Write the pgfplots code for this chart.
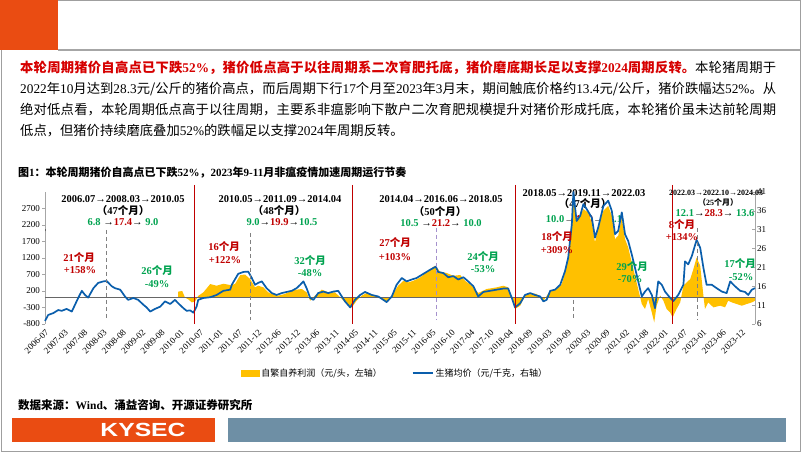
\documentclass[border=0pt]{standalone}
\usepackage{pgfplots}
\usepackage{pgfplotstable}
\pgfplotsset{compat=1.18}
\usepackage{fontspec}
\setmainfont{Liberation Serif}
\newfontfamily\cjk{Noto Sans CJK SC}
\newfontfamily\kysans{Liberation Sans}
\definecolor{gold}{RGB}{255,192,0}
\definecolor{pblue}{RGB}{10,94,172}
\definecolor{ared}{RGB}{192,0,0}
\definecolor{agreen}{RGB}{0,163,80}
\definecolor{tred}{RGB}{214,0,0}
\definecolor{kyorange}{RGB}{234,76,18}
\definecolor{kyblue}{RGB}{110,143,165}
\definecolor{lilac}{RGB}{165,145,205}
\newcommand\tm[1]{{\rmfamily #1}}
\newcommand\G[1]{\textcolor{agreen}{#1}}
\newcommand\R[1]{\textcolor{ared}{#1}}

% 生猪均价 (元/千克)
\pgfplotstableread{
t v
2006.50 6.8
2006.58 8.4
2006.71 8.9
2006.83 9.7
2006.92 9.5
2007.04 10.0
2007.17 9.3
2007.25 11.1
2007.33 12.9
2007.42 14.8
2007.50 13.7
2007.58 13.0
2007.71 15.5
2007.83 16.9
2007.96 17.3
2008.04 17.4
2008.17 16.0
2008.25 15.5
2008.38 15.1
2008.50 13.3
2008.58 12.4
2008.71 12.9
2008.83 12.4
2008.96 11.1
2009.04 10.4
2009.13 9.3
2009.25 10.0
2009.38 10.6
2009.50 12.0
2009.63 11.3
2009.75 12.4
2009.83 11.5
2009.96 10.2
2010.04 9.5
2010.13 9.6
2010.21 9.0
2010.29 10.6
2010.33 12.4
2010.46 12.9
2010.63 13.1
2010.79 13.7
2010.96 14.8
2011.13 15.1
2011.17 16.4
2011.33 19.3
2011.46 19.8
2011.58 19.9
2011.67 18.2
2011.75 16.4
2011.83 16.9
2011.92 17.3
2012.04 15.5
2012.17 14.2
2012.29 13.7
2012.42 14.2
2012.54 14.5
2012.67 14.8
2012.79 15.5
2012.88 16.4
2012.96 17.3
2013.04 15.5
2013.13 12.9
2013.21 12.4
2013.33 14.2
2013.46 14.6
2013.58 14.2
2013.71 14.6
2013.83 14.8
2013.92 13.3
2014.00 12.0
2014.13 10.4
2014.25 12.4
2014.38 13.7
2014.50 14.5
2014.67 13.7
2014.83 13.3
2014.96 12.4
2015.04 11.8
2015.17 13.3
2015.29 16.4
2015.42 18.2
2015.54 17.3
2015.67 17.8
2015.79 18.2
2015.96 19.3
2016.13 20.4
2016.27 21.2
2016.33 19.8
2016.46 19.5
2016.58 18.4
2016.71 18.7
2016.83 17.8
2016.96 18.4
2017.08 17.3
2017.21 16.0
2017.33 13.3
2017.46 14.5
2017.63 14.8
2017.79 15.1
2017.96 15.4
2018.08 15.4
2018.17 12.9
2018.25 10.4
2018.38 11.5
2018.50 13.7
2018.63 14.2
2018.75 13.7
2018.88 13.3
2018.96 12.0
2019.04 12.4
2019.13 14.8
2019.25 15.1
2019.38 16.4
2019.50 20.0
2019.58 23.6
2019.67 32.4
2019.71 41.0
2019.79 33.3
2019.88 34.7
2019.96 37.8
2020.04 36.5
2020.17 34.2
2020.25 28.9
2020.33 31.6
2020.46 37.3
2020.58 38.7
2020.67 36.0
2020.75 29.8
2020.83 30.7
2020.92 35.6
2021.00 29.8
2021.08 28.0
2021.17 24.4
2021.29 19.1
2021.42 13.3
2021.50 14.6
2021.58 15.5
2021.67 13.7
2021.75 10.2
2021.83 17.3
2021.92 16.4
2022.00 14.6
2022.13 12.9
2022.21 12.1
2022.33 13.7
2022.46 16.4
2022.50 22.6
2022.58 21.8
2022.67 24.0
2022.79 28.3
2022.88 26.2
2022.96 20.9
2023.04 16.4
2023.17 16.4
2023.29 15.5
2023.42 14.6
2023.54 14.2
2023.63 17.3
2023.75 16.0
2023.88 14.8
2024.00 14.5
2024.08 13.7
2024.17 15.1
2024.25 15.5
}\price

% 自繁自养利润 (元/头)
\pgfplotstableread{
t v
2009.83 180
2009.93 200
2010.00 0
2010.08 -50
2010.17 -145
2010.25 -120
2010.33 50
2010.46 160
2010.63 410
2010.79 360
2010.96 420
2011.13 380
2011.25 410
2011.38 680
2011.50 700
2011.63 560
2011.75 310
2011.83 360
2011.96 310
2012.08 160
2012.17 110
2012.33 60
2012.50 110
2012.67 210
2012.79 240
2012.92 260
2013.04 160
2013.13 -95
2013.25 60
2013.42 240
2013.58 160
2013.75 160
2013.92 -40
2014.08 -245
2014.17 -300
2014.29 -95
2014.42 60
2014.54 140
2014.71 80
2014.92 -40
2015.04 -145
2015.17 60
2015.33 360
2015.46 510
2015.58 460
2015.71 510
2015.88 610
2016.13 865
2016.25 965
2016.38 785
2016.54 745
2016.71 660
2016.88 685
2017.00 510
2017.17 360
2017.33 140
2017.54 260
2017.79 310
2017.96 360
2018.08 310
2018.17 -40
2018.25 -345
2018.38 -245
2018.50 60
2018.63 140
2018.79 110
2018.96 -95
2019.13 210
2019.29 260
2019.42 410
2019.50 760
2019.58 1270
2019.67 2380
2019.71 2985
2019.79 2380
2019.88 2480
2019.96 2680
2020.08 2580
2020.17 2275
2020.25 1670
2020.33 2175
2020.46 2630
2020.58 2780
2020.67 2480
2020.75 1775
2020.83 1875
2020.92 2430
2021.00 1775
2021.08 1520
2021.17 1065
2021.29 460
2021.42 -195
2021.50 -345
2021.58 -40
2021.67 -450
2021.73 -750
2021.79 -245
2021.88 60
2021.96 -95
2022.04 -345
2022.13 -450
2022.19 -600
2022.29 -345
2022.38 -145
2022.46 360
2022.54 460
2022.63 560
2022.71 865
2022.79 1215
2022.88 965
2022.96 60
2023.00 -345
2023.08 -145
2023.21 -295
2023.38 -245
2023.50 -295
2023.58 -95
2023.67 -145
2023.79 -195
2023.92 -245
2024.04 -195
2024.17 -145
2024.25 -95
}\profit

\def\xticks{2006.500,2006.984,2007.468,2007.951,2008.435,2008.919,2009.403,2009.886,2010.370,2010.854,2011.338,2011.821,2012.305,2012.789,2013.273,2013.756,2014.240,2014.724,2015.208,2015.691,2016.175,2016.659,2017.143,2017.626,2018.110,2018.594,2019.078,2019.561,2020.045,2020.529,2021.013,2021.496,2021.980,2022.464,2022.948,2023.431,2023.915}

\begin{document}
\begin{tikzpicture}[x=1pt,y=1pt,
  ann/.style={inner sep=0pt, font=\rmfamily\bfseries\fontsize{10.5}{12}\selectfont},
  sml/.style={inner sep=0pt, font=\rmfamily\bfseries\fontsize{8}{9}\selectfont}]
\path[use as bounding box] (0,0) rectangle (802,452);
\fill[white] (0,0) rectangle (802,452);
% slide frame
\draw[gray!75, line width=0.8pt] (1,1) rectangle (800,451.5);
\fill[kyorange] (0,402) rectangle (58,452);
\draw[gray!70, line width=1.2pt] (58,402) -- (800,402);

% paragraph
\node[anchor=north west, inner sep=0pt, text width=756pt, align=justify] at (20,391)
{\cjk\fontsize{13.3pt}{20.8pt}\selectfont\XeTeXlinebreaklocale "zh"\XeTeXlinebreakskip=0pt plus 1.5pt
{\color{tred}\bfseries 本轮周期猪价自高点已下跌\tm{52\%}，猪价低点高于以往周期系二次育肥托底，猪价磨底期长足以支撑\tm{2024}周期反转。}本轮猪周期于\linebreak
\tm{2022}年\tm{10}月达到\tm{28.3}元/公斤的猪价高点，而后周期下行\tm{17}个月至\tm{2023}年\tm{3}月末，期间触底价格约\tm{13.4}元/公斤，猪价跌幅达\tm{52\%}。从\linebreak
绝对低点看，本轮周期低点高于以往周期，主要系非瘟影响下散户二次育肥规模提升对猪价形成托底，本轮猪价虽未达前轮周期\linebreak
低点，但猪价持续磨底叠加\tm{52\%}的跌幅足以支撑\tm{2024}年周期反转。\par};

% chart title
\node[anchor=west, inner sep=0pt] at (18,279)
{\cjk\bfseries\fontsize{11}{13}\selectfont 图\tm{1}：本轮周期猪价自高点已下跌\tm{52\%}，\tm{2023}年\tm{9-11}月非瘟疫情加速周期运行节奏};

% annotations lying under the data (2018-2022 cycle)
\draw[gray, dashed, dash pattern=on 4pt off 3pt, line width=0.8pt] (573,222) -- (573,132);
\node[ann] at (584,259) {2018.05→2019.11→2022.03};
\node[ann] at (585,248) {{\cjk （}47{\cjk 个月）}};
\node[ann] at (584,233) {\G{10.0}→\R{41.0}→\G{12.1}};

\begin{axis}[
  at={(45pt,128pt)}, anchor=south west,
  scale only axis, width=710pt, height=132pt,
  xmin=2006.5, xmax=2024.25,
  ymin=-800, ymax=3200,
  axis y line*=left, axis x line*=bottom,
  x axis line style={draw=none},
  y axis line style={gray!70, line width=0.6pt},
  ytick={-800,-300,200,700,1200,1700,2200,2700},
  xtick/.expanded={\xticks},
  xticklabels={2006-07,2007-03,2007-08,2008-03,2008-08,2009-02,2009-08,2010-01,2010-07,2011-01,2011-07,2011-12,2012-06,2012-12,2013-06,2013-11,2014-05,2014-11,2015-05,2015-11,2016-05,2016-10,2017-04,2017-10,2018-04,2018-09,2019-03,2019-09,2020-03,2020-09,2021-02,2021-08,2022-01,2022-07,2023-01,2023-06,2023-12},
  xtick style={draw=none},
  ytick style={gray!70, line width=0.6pt},
  tick align=outside, major tick length=3pt,
  xticklabel style={rotate=45, anchor=north east, inner sep=1pt, font=\fontsize{9}{10}\selectfont},
  yticklabel style={font=\fontsize{9}{10}\selectfont, inner sep=2pt},
  /pgf/number format/assume math mode=true,
  /pgf/number format/1000 sep={},
  clip=false,
]
\addplot[fill=gold, draw=none] table[x=t, y=v] {\profit} \closedcycle;
\draw[gray!80!black, line width=0.6pt] (axis cs:2006.5,0) -- (axis cs:2024.25,0);
\pgfplotsinvokeforeach{\xticks}{\draw[gray!80!black, line width=0.5pt] (axis cs:#1,0) -- ++(0pt,2pt);}
\end{axis}

\begin{axis}[
  at={(45pt,128pt)}, anchor=south west,
  scale only axis, width=710pt, height=132pt,
  xmin=2006.5, xmax=2024.25,
  ymin=6, ymax=41,
  axis y line*=right, axis x line=none,
  y axis line style={gray!70, line width=0.6pt},
  ytick={6,11,16,21,26,31,36,41},
  ytick style={gray!70, line width=0.6pt},
  tick align=inside, major tick length=3pt,
  yticklabel style={font=\fontsize{9}{10}\selectfont, inner sep=2pt},
  /pgf/number format/assume math mode=true,
  clip=false,
  legend style={at={(0.493,-0.371)}, anchor=center, draw=none, fill=none,
    legend columns=2, inner sep=0pt,
    font=\cjk\fontsize{9}{11}\selectfont,
    /tikz/every even column/.append style={column sep=28pt}},
]
\addlegendimage{legend image code/.code={\fill[gold] (0pt,-3pt) rectangle (18pt,3pt);}}
\addlegendentry{自繁自养利润（元/头，左轴）}
\addplot[pblue, line width=1.7pt, line join=round,
  legend image code/.code={\draw[pblue, line width=1.7pt] (0pt,0pt) -- (20pt,0pt);}]
  table[x=t, y=v] {\price};
\addlegendentry{生猪均价（元/千克，右轴）}
\end{axis}

% cycle separators and peaks
\foreach \xx in {194,352,515,672}
  \draw[ared, line width=0.9pt] (\xx,267) -- (\xx,128);
\foreach \xx/\yy in {106/222,250/219,697/224}
  \draw[gray, dash pattern=on 4pt off 3pt, line width=0.8pt] (\xx,\yy) -- (\xx,132);
\draw[lilac, dash pattern=on 4pt off 3pt, line width=0.8pt] (436,224) -- (436,132);

% cycle 1
\node[ann] at (123,253) {2006.07→2008.03→2010.05};
\node[ann] at (123,241) {{\cjk （}47{\cjk 个月）}};
\node[ann] at (123,230) {\G{6.8} →\R{17.4}→ \G{9.0}};
\node[ann] at (79,194) {\R{21{\cjk 个月}}};
\node[ann] at (80,182) {\R{+158\%}};
\node[ann] at (157,181) {\G{26{\cjk 个月}}};
\node[ann] at (157,168) {\G{-49\%}};
% cycle 2
\node[ann] at (280,253) {2010.05→2011.09→2014.04};
\node[ann] at (279,241) {{\cjk （}48{\cjk 个月）}};
\node[ann] at (282,230) {\G{9.0}→\R{19.9}→\G{10.5}};
\node[ann] at (224,205) {\R{16{\cjk 个月}}};
\node[ann] at (225,192) {\R{+122\%}};
\node[ann] at (310,191) {\G{32{\cjk 个月}}};
\node[ann] at (310,179) {\G{-48\%}};
% cycle 3
\node[ann] at (441,253) {2014.04→2016.06→2018.05};
\node[ann] at (440,240) {{\cjk （}50{\cjk 个月）}};
\node[ann] at (441,229) {\G{10.5} →\R{21.2}→ \G{10.0}};
\node[ann] at (395,209) {\R{27{\cjk 个月}}};
\node[ann] at (395,195) {\R{+103\%}};
\node[ann] at (483,195) {\G{24{\cjk 个月}}};
\node[ann] at (483,183) {\G{-53\%}};
% cycle 4
\node[ann] at (557,215) {\R{18{\cjk 个月}}};
\node[ann] at (557,202) {\R{+309\%}};
\node[ann] at (632,185) {\G{29{\cjk 个月}}};
\node[ann] at (630,173) {\G{-70\%}};
% cycle 5
\node[sml] at (716,259) {2022.03→2022.10→2024.03};
\node[sml] at (718,250) {{\cjk （}25{\cjk 个月）}};
\node[ann] at (715,239) {\G{12.1}→\R{28.3}→ \G{13.6}};
\node[ann] at (682,227) {\R{8{\cjk 个月}}};
\node[ann] at (682,215) {\R{+134\%}};
\node[ann] at (740,188) {\G{17{\cjk 个月}}};
\node[ann] at (741,175) {\G{-52\%}};

% source
\node[anchor=west, inner sep=0pt] at (18,47)
{\cjk\bfseries\fontsize{11.5}{13}\selectfont 数据来源：\tm{Wind}、涌益咨询、开源证券研究所};

% footer bar
\fill[kyorange] (12,10) rectangle (215,34);
\fill[kyblue] (228,10) rectangle (786,34);
\node[white, inner sep=0pt] at (143,22) {\kysans\bfseries\fontsize{19}{19}\selectfont\scalebox{1.3}[1]{KYSEC}};
\end{tikzpicture}
\end{document}
